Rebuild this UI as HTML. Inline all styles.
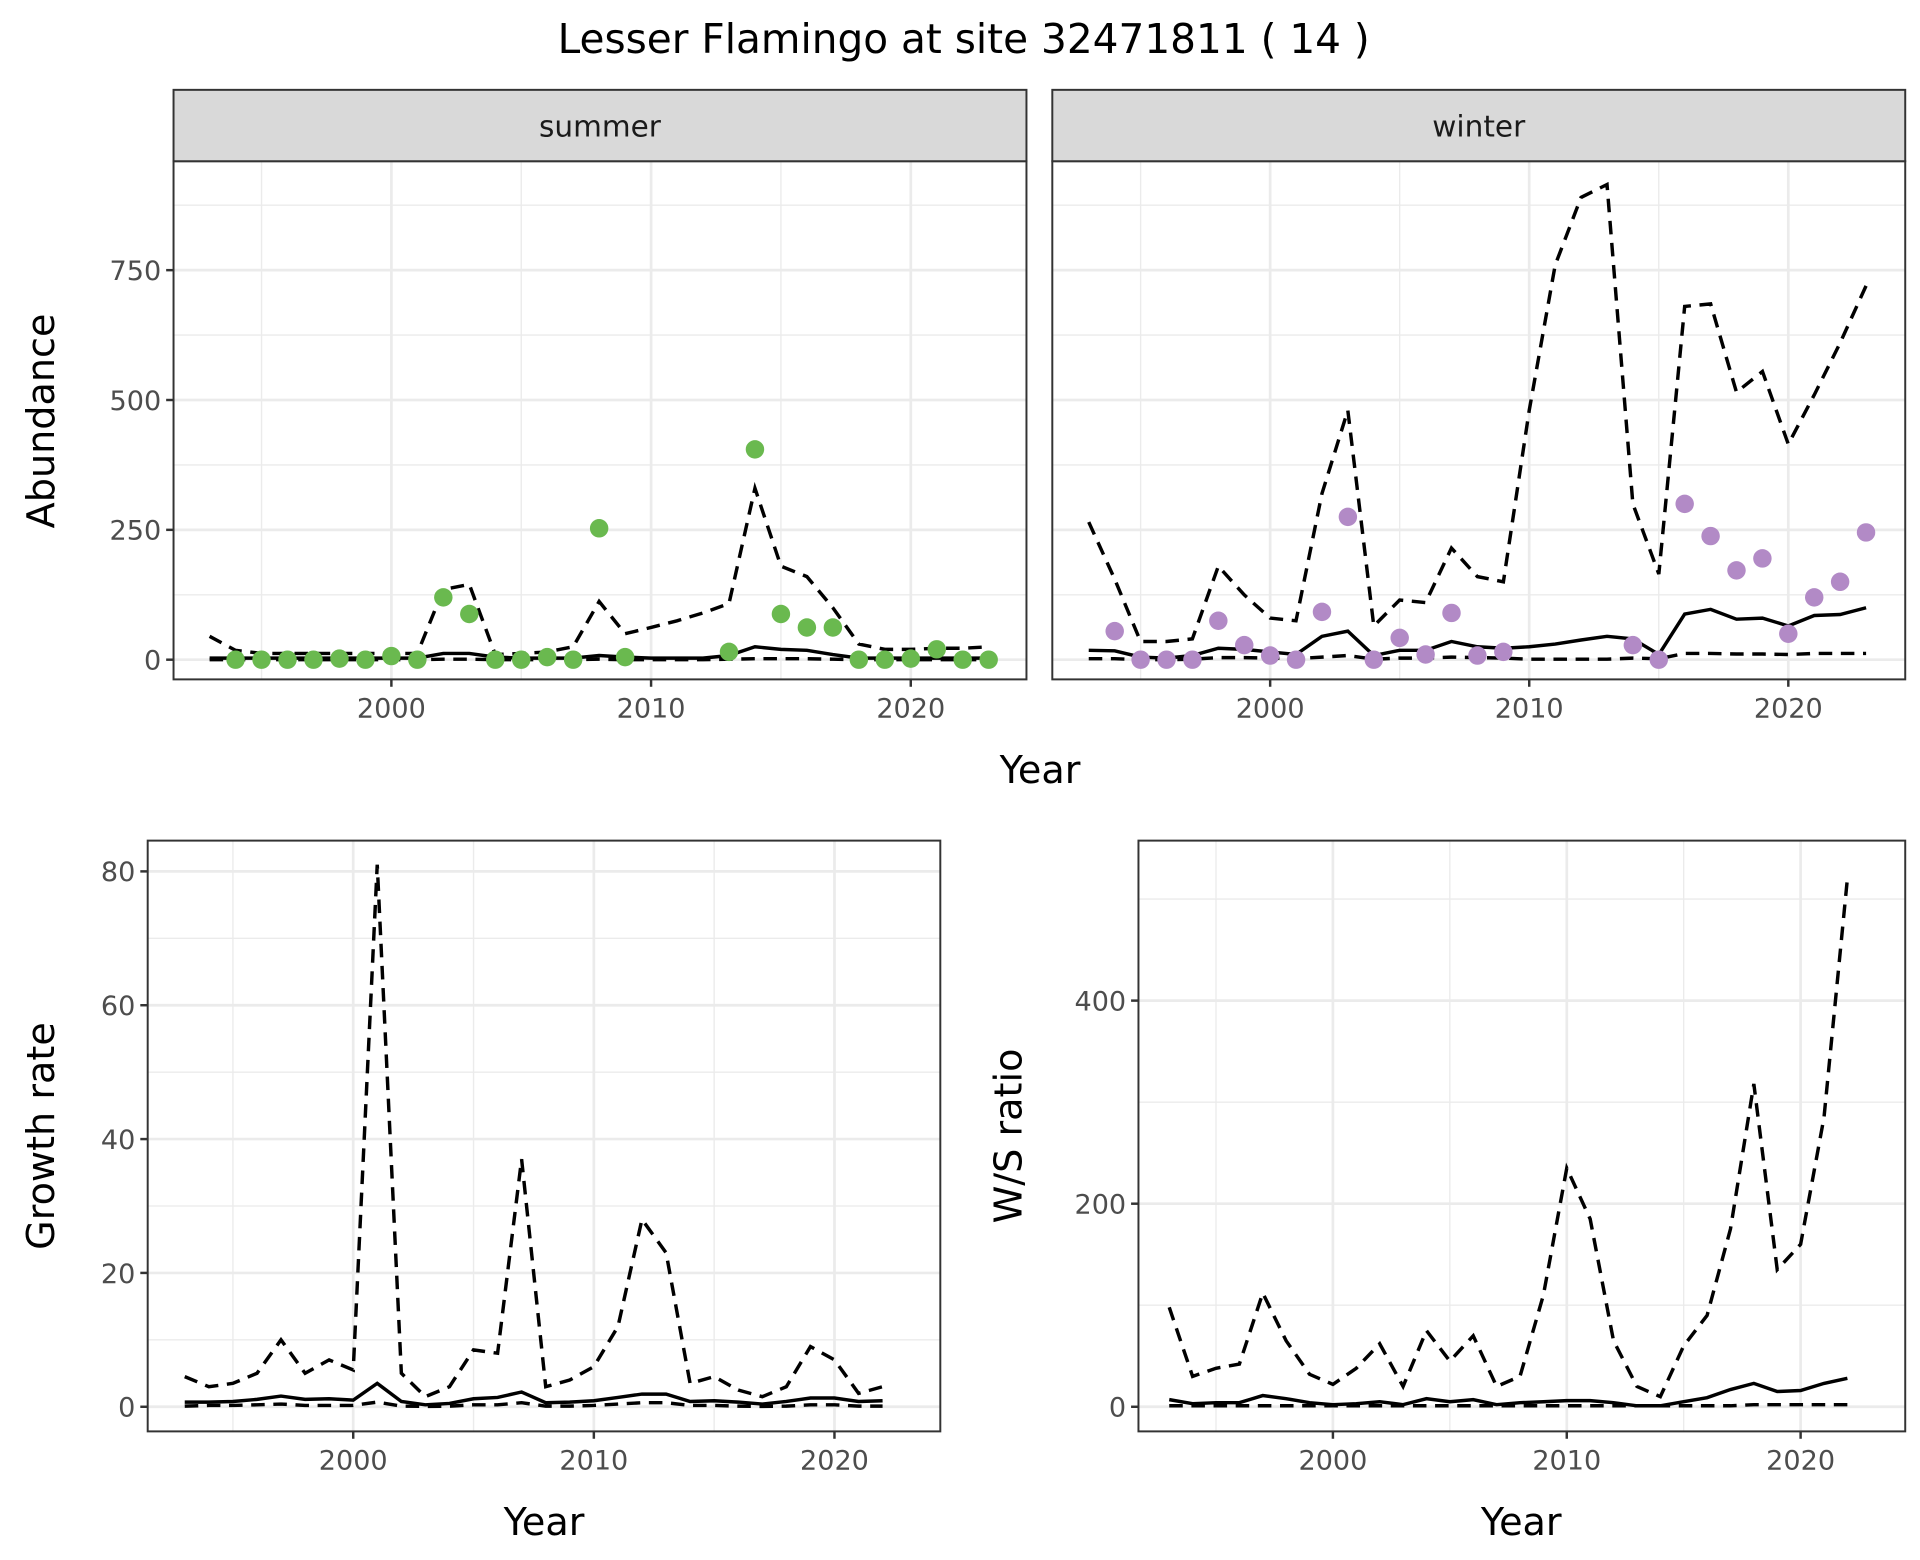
<!DOCTYPE html>
<html><head><meta charset="utf-8"><style>
html,body{margin:0;padding:0;background:#fff}
svg{display:block}
text{font-family:"DejaVu Sans","Liberation Sans",sans-serif}
</style></head><body>
<svg id="chart" width="1920" height="1560" viewBox="0 0 1560 1267.5" xmlns="http://www.w3.org/2000/svg">
<text x="783" y="43" font-size="33" text-anchor="middle" fill="#000">Lesser Flamingo at site 32471811 ( 14 )</text>
</svg>
<script>
const yearsFull = [1993,1994,1995,1996,1997,1998,1999,2000,2001,2002,2003,2004,2005,2006,2007,2008,2009,2010,2011,2012,2013,2014,2015,2016,2017,2018,2019,2020,2021,2022,2023];
const yearsRatio = yearsFull.slice(0,30);
const summerPtYears = [1994,1995,1996,1997,1998,1999,2000,2001,2002,2003,2004,2005,2006,2007,2008,2009,2013,2014,2015,2016,2017,2018,2019,2020,2021,2022,2023];
const summerPts = [0,0,0,0,2,0,7,0,120,88,0,0,5,0,253,5,15,405,88,62,62,0,0,2,20,0,0];
const summerUpper = [45,18,12,12,12,12,12,12,12,135,145,10,12,15,25,112,50,62,75,90,108,330,180,160,100,30,20,20,22,22,25];
const summerMid = [3,3,3,3,3,3,3,3,3,12,12,5,3,3,3,8,5,3,3,3,8,25,20,18,10,3,3,3,3,3,3];
const summerLower = [0,0,0,0,0,0,0,0,0,1,1,0,0,0,0,1,0,0,0,0,1,2,2,2,1,0,0,0,0,0,0];
const winterPtYears = [1994,1995,1996,1997,1998,1999,2000,2001,2002,2003,2004,2005,2006,2007,2008,2009,2014,2015,2016,2017,2018,2019,2020,2021,2022,2023];
const winterPts = [55,0,0,0,75,28,8,0,92,275,0,42,10,90,8,15,28,0,300,238,172,195,50,120,150,245];
const winterUpper = [265,155,35,35,40,180,125,80,75,320,480,65,115,110,215,160,150,480,760,890,915,300,165,680,685,515,555,415,510,610,720];
const winterMid = [18,17,5,3,8,22,20,15,10,45,55,8,18,18,35,25,22,25,30,38,45,40,10,88,97,78,80,65,85,87,100];
const winterLower = [2,2,0,0,1,4,4,3,2,5,8,1,3,3,5,4,3,1,1,1,1,3,2,12,12,11,11,10,12,12,12];
const growthUpper = [4.5,3,3.5,5,10,5,7,5.5,81,5,1.5,3,8.5,8,37,3,4,6,12,28,23,3.5,4.5,2.5,1.5,3,9,7,2,3];
const growthMid = [0.7,0.7,0.8,1.1,1.6,1.1,1.2,1.0,3.5,0.8,0.3,0.5,1.2,1.4,2.2,0.6,0.7,0.9,1.4,1.9,1.9,0.8,0.9,0.7,0.4,0.8,1.3,1.3,0.8,0.9];
const growthLower = [0.1,0.2,0.2,0.3,0.4,0.2,0.2,0.2,0.7,0.1,0.05,0.1,0.3,0.3,0.6,0.1,0.1,0.2,0.4,0.6,0.6,0.2,0.2,0.1,0.05,0.1,0.3,0.3,0.1,0.1];
const ratioUpper = [98,30,38,42,112,65,32,22,38,62,20,75,45,70,20,30,110,235,185,65,20,10,60,90,175,318,135,160,285,520];
const ratioMid = [7,3,4,4,11,8,4,2,3,5,2,8,5,7,2,4,5,6,6,4,1,1,5,9,17,23,15,16,23,28];
const ratioLower = [1,1,1,1,1,1,1,1,1,1,1,1,1,1,1,1,1,1,1,1,1,1,1,1,1,2,2,2,2,2];
const abundTicks = [0,250,500,750];
const abundMinor = [125,375,625,875];
const growthTicks = [0,20,40,60,80];
const growthMinor = [10,30,50,70];
const ratioTicks = [0,200,400];
const ratioMinor = [100,300,500];
const yearTicks = [2000,2010,2020];
const yearMinor = [1995,2005,2015];

const NS = "http://www.w3.org/2000/svg";
const svg = document.getElementById('chart');
function mk(tag, attrs, parent){const e=document.createElementNS(NS,tag);for(const k in attrs)e.setAttribute(k,attrs[k]);(parent||svg).appendChild(e);return e;}

function panel(p){
  const g = mk('g',{});
  
  
  const sx = v => p.x0 + (v - p.xd0)/(p.xd1 - p.xd0)*(p.x1 - p.x0);
  const sy = v => p.y1 - (v - p.yd0)/(p.yd1 - p.yd0)*(p.y1 - p.y0);
  mk('rect',{x:p.x0,y:p.y0,width:p.x1-p.x0,height:p.y1-p.y0,fill:'#fff'},g);
  p.yMinor.forEach(v=>{const y=sy(v);if(y>p.y0&&y<p.y1)mk('line',{x1:p.x0,x2:p.x1,y1:y,y2:y,stroke:'#ebebeb','stroke-width':1.1},g);});
  yearMinor.forEach(v=>{const x=sx(v);mk('line',{x1:x,x2:x,y1:p.y0,y2:p.y1,stroke:'#ebebeb','stroke-width':1.1},g);});
  p.yTicks.forEach(v=>{const y=sy(v);mk('line',{x1:p.x0,x2:p.x1,y1:y,y2:y,stroke:'#ebebeb','stroke-width':2.2},g);
    if(p.showY){mk('line',{x1:p.x0-6,x2:p.x0,y1:y,y2:y,stroke:'#333','stroke-width':2},g);
      const t=mk('text',{x:p.x0-10,y:y+8,'font-size':22,'text-anchor':'end',fill:'#4d4d4d'},g);t.textContent=v;
      
      }});
  yearTicks.forEach(v=>{const x=sx(v);mk('line',{x1:x,x2:x,y1:p.y0,y2:p.y1,stroke:'#ebebeb','stroke-width':2.2},g);
    mk('line',{x1:x,x2:x,y1:p.y1,y2:p.y1+6,stroke:'#333','stroke-width':2},g);
    const t=mk('text',{x:x,y:p.y1+31,'font-size':22,'text-anchor':'middle',fill:'#4d4d4d'},g);t.textContent=v;
    
    });
  p.lines.forEach(L=>{
    const d=L.vals.map((v,i)=>(i?'L':'M')+sx(L.xs[i]).toFixed(1)+','+sy(v).toFixed(1)).join(' ');
    const path=mk('path',{d:d,fill:'none',stroke:'#000','stroke-width':2.8,'stroke-dasharray':L.dash?'11,7':'none'},g);
    
    
  });
  if(p.pts){p.pts.vals.forEach((v,i)=>{
    const c=mk('circle',{cx:sx(p.pts.xs[i]),cy:sy(v),r:7.5,fill:p.pts.color},g);
    
    });}
  mk('rect',{x:p.x0,y:p.y0,width:p.x1-p.x0,height:p.y1-p.y0,fill:'none',stroke:'#333','stroke-width':1.6},g);
  if(p.strip){
    const s=mk('rect',{x:p.x0,y:p.y0-58,width:p.x1-p.x0,height:58,fill:'#d9d9d9',stroke:'#333','stroke-width':1.6},g);
    
    
    const t=mk('text',{x:(p.x0+p.x1)/2,y:p.y0-20,'font-size':24,'text-anchor':'middle',fill:'#1a1a1a'},g);t.textContent=p.strip;
    
    
  }
}
function label(txt,x,y,rot,name){
  const t=mk('text',{x:x,y:y,'font-size':31,'text-anchor':'middle',fill:'#000',transform:rot?`rotate(-90 ${x} ${y})`:''});
  t.textContent=txt;
  
  
}
const topY={y0:131,y1:552,yd0:0-(552-536)/105.5*250,yd1:(536-131)/105.5*250};
panel(Object.assign({name:'summer-panel',strip:'summer',x0:141,x1:834,xd0:2000-(318-141)/21.1,xd1:2000+(834-318)/21.1,yTicks:abundTicks,yMinor:abundMinor,showY:true,
  lines:[{xs:yearsFull,vals:summerUpper,dash:true,name:'summer-upper-line'},{xs:yearsFull,vals:summerMid,dash:false,name:'summer-trend-line'},{xs:yearsFull,vals:summerLower,dash:true,name:'summer-lower-line'}],
  pts:{xs:summerPtYears,vals:summerPts,color:'#6ab94f'}},topY));
panel(Object.assign({name:'winter-panel',strip:'winter',x0:855,x1:1548,xd0:2000-(1032-855)/21.05,xd1:2000+(1548-1032)/21.05,yTicks:abundTicks,yMinor:abundMinor,showY:false,
  lines:[{xs:yearsFull,vals:winterUpper,dash:true,name:'winter-upper-line'},{xs:yearsFull,vals:winterMid,dash:false,name:'winter-trend-line'},{xs:yearsFull,vals:winterLower,dash:true,name:'winter-lower-line'}],
  pts:{xs:winterPtYears,vals:winterPts,color:'#b28ac6'}},topY));
panel({name:'growth-panel',x0:120,x1:764,y0:683,y1:1163,xd0:2000-(287-120)/19.55,xd1:2000+(764-287)/19.55,yd0:-20/108.75*20,yd1:(1143-683)/108.75*20,yTicks:growthTicks,yMinor:growthMinor,showY:true,
  lines:[{xs:yearsRatio,vals:growthUpper,dash:true,name:'growth-upper-line'},{xs:yearsRatio,vals:growthMid,dash:false,name:'growth-trend-line'},{xs:yearsRatio,vals:growthLower,dash:true,name:'growth-lower-line'}]});
panel({name:'ratio-panel',x0:925,x1:1548,y0:683,y1:1163,xd0:2000-(1083-925)/19,xd1:2000+(1548-1083)/19,yd0:-20/0.825,yd1:(1143-683)/0.825,yTicks:ratioTicks,yMinor:ratioMinor,showY:true,
  lines:[{xs:yearsRatio,vals:ratioUpper,dash:true,name:'ratio-upper-line'},{xs:yearsRatio,vals:ratioMid,dash:false,name:'ratio-trend-line'},{xs:yearsRatio,vals:ratioLower,dash:true,name:'ratio-lower-line'}]});
label('Abundance',44,342,true,'y-axis-title-abundance');
label('Year',845,636,false,'x-axis-title-top');
label('Growth rate',44,923,true,'y-axis-title-growth');
label('Year',442,1247,false,'x-axis-title-growth');
label('W/S ratio',830,923,true,'y-axis-title-ratio');
label('Year',1236,1247,false,'x-axis-title-ratio');
</script>
</body></html>
